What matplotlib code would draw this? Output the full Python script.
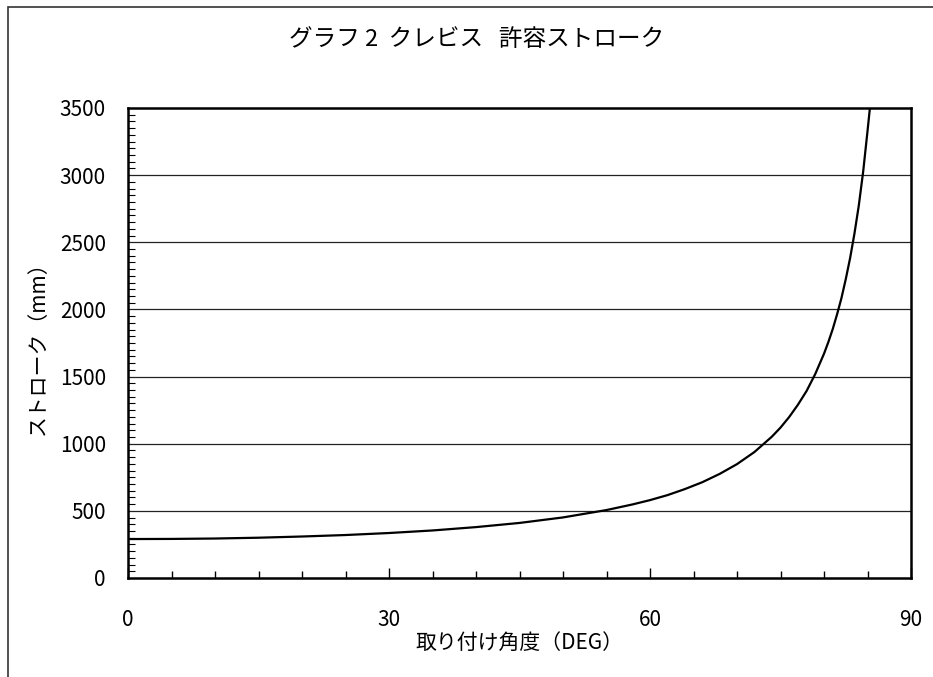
import numpy as np
import matplotlib
matplotlib.use('Agg')
import matplotlib.pyplot as plt
from matplotlib.ticker import MultipleLocator
from matplotlib.patches import Rectangle

plt.rcParams['font.family'] = ['Noto Sans CJK JP', 'DejaVu Sans']

# values
angle = [0, 5, 10, 15, 20, 25, 30, 35, 40, 45, 50, 55, 58, 60, 62, 64, 66, 68,
         70, 72, 74, 75, 76, 77, 78, 79, 80, 80.5, 81, 81.5, 82, 82.5, 83,
         83.5, 84, 84.5, 85, 85.5]
stroke = [290, 291, 294, 300, 309, 320, 335, 354, 379, 410, 451, 506, 548, 580,
          617, 662, 713, 775, 848, 938, 1052, 1120, 1199, 1290, 1393, 1520,
          1670, 1757, 1853, 1963, 2083, 2225, 2382, 2565, 2774, 3025, 3327,
          3640]

title = 'グラフ 2  クレビス   許容ストローク'
xlab = '取り付け角度（DEG）'
ylab = 'ストローク（mm）'
xticks = [0, 30, 60, 90]
yticks = [0, 500, 1000, 1500, 2000, 2500, 3000, 3500]

fig = plt.figure(figsize=(9.33, 6.77), dpi=100)
# outer frame (only left/top edges visible in the original crop)
fig.patches.append(Rectangle((8/933, -0.1), 1.2, 1 - 7/677 + 0.1,
                             transform=fig.transFigure, fill=False,
                             edgecolor='#333333', linewidth=1.2))

ax = fig.add_axes([128/933, 1 - 578/677, (911 - 128)/933, (578 - 108)/677])
ax.plot(angle, stroke, color='black', linewidth=1.6)

ax.set_xlim(0, 90)
ax.set_ylim(0, 3500)
ax.set_xticks(xticks)
ax.set_yticks(yticks)
ax.xaxis.set_minor_locator(MultipleLocator(5))
ax.yaxis.set_minor_locator(MultipleLocator(50))
ax.tick_params(axis='x', which='major', direction='in', length=7, width=1,
               pad=22, labelsize=15)
ax.tick_params(axis='x', which='minor', direction='in', length=5, width=1)
ax.tick_params(axis='y', which='major', direction='in', length=0,
               pad=16, labelsize=15)
ax.tick_params(axis='y', which='minor', direction='in', length=5, width=0.8)
for s in ax.spines.values():
    s.set_linewidth(1.8)

for v in yticks[1:-1]:
    ax.axhline(v, color='#222222', linewidth=0.9, zorder=0)

ax.set_xlabel(xlab, fontsize=15, labelpad=1)
ax.set_ylabel(ylab, fontsize=15, labelpad=8)
fig.text(477/933, 1 - 39/677, title, fontsize=17, ha='center', va='center')

fig.savefig('out.png', dpi=100)
